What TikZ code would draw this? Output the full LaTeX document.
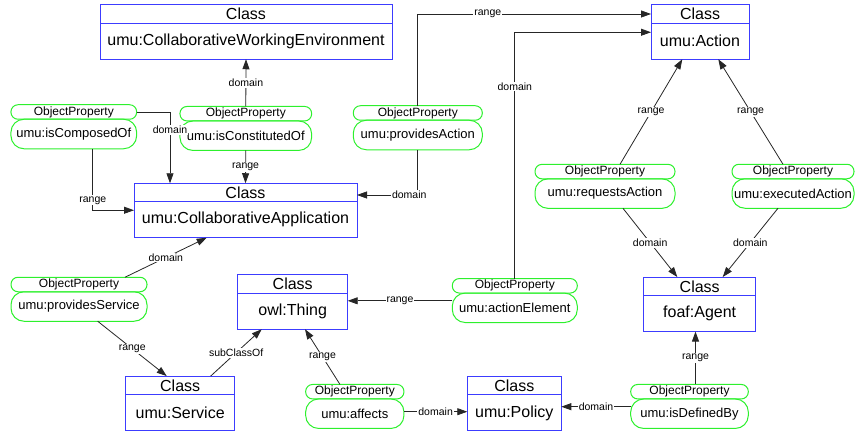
\documentclass[tikz,border=0pt]{standalone}
\usepackage{fontspec}
\setmainfont{Liberation Sans}
\usetikzlibrary{arrows.meta,positioning}

\definecolor{clsblue}{RGB}{60,60,255}
\definecolor{opgreen}{RGB}{45,240,45}

\tikzset{
  clshead/.style={color=clsblue, text=black, draw, line width=1pt, outer sep=0pt,
    inner sep=0pt, minimum width=#1, minimum height=18.5pt,
    font=\fontsize{16}{16}\selectfont},
  clsbody/.style={color=clsblue, text=black, draw, line width=1pt, outer sep=0pt,
    inner sep=0pt, minimum width=#1, minimum height=36pt,
    font=\fontsize{16}{16}\selectfont},
  ophead/.style={color=opgreen, text=black, draw, line width=1pt, outer sep=0pt,
    inner sep=0pt, rounded corners=7pt, minimum width=#1, minimum height=14.5pt,
    font=\fontsize{12}{12}\selectfont},
  opbody/.style={color=opgreen, text=black, draw, line width=1pt, outer sep=0pt,
    inner sep=0pt, rounded corners=13pt, minimum width=#1, minimum height=29.5pt,
    font=\fontsize{13}{13}\selectfont},
  rel/.style={draw=black!85, line width=0.8pt, -{Triangle[length=10pt,width=7pt]}},
  lbl/.style={fill=white, text=black, inner sep=1pt, font=\fontsize{10.5}{10.5}\selectfont},
}

\begin{document}
\begin{tikzpicture}[x=1pt,y=-1pt]
  \useasboundingbox (0,0) rectangle (855,436);
  %
  % Classes
  \node[clshead=292pt] (cwe-h) at (246,14) {Class};
  \node[clsbody=292pt, below=0pt of cwe-h] (cwe) {umu:CollaborativeWorkingEnvironment};
  \node[clshead=223pt] (capp-h) at (245.5,192.5) {Class};
  \node[clsbody=223pt, below=0pt of capp-h] (capp) {umu:CollaborativeApplication};
  \node[clshead=98pt] (act-h) at (700,14) {Class};
  \node[clsbody=98pt, below=0pt of act-h] (act) {umu:Action};
  \node[clshead=110pt] (thing-h) at (292.7,284) {Class};
  \node[clsbody=110pt, below=0pt of thing-h] (thing) {owl:Thing};
  \node[clshead=109pt] (serv-h) at (180.2,385.3) {Class};
  \node[clsbody=109pt, below=0pt of serv-h] (serv) {umu:Service};
  \node[clshead=94pt] (pol-h) at (514.3,385.7) {Class};
  \node[clsbody=94pt, below=0pt of pol-h] (pol) {umu:Policy};
  \node[clshead=112pt] (agent-h) at (699.7,286.3) {Class};
  \node[clsbody=112pt, below=0pt of agent-h] (agent) {foaf:Agent};
  %
  % Object properties
  \node[ophead=125.7pt] (icomp-h) at (73.8,112) {ObjectProperty};
  \node[opbody=125.7pt, below=0pt of icomp-h] (icomp) {umu:isComposedOf};
  \node[ophead=131.7pt] (icons-h) at (245.8,113.7) {ObjectProperty};
  \node[opbody=131.7pt, below=0pt of icons-h] (icons) {umu:isConstitutedOf};
  \node[ophead=129pt] (pact-h) at (417.8,113) {ObjectProperty};
  \node[opbody=129pt, below=0pt of pact-h] (pact) {umu:providesAction};
  \node[ophead=140pt] (req-h) at (605,171.6) {ObjectProperty};
  \node[opbody=140pt, below=0pt of req-h] (req) {umu:requestsAction};
  \node[ophead=122pt] (exe-h) at (793,171.5) {ObjectProperty};
  \node[opbody=122pt, below=0pt of exe-h] (exe) {umu:executedAction};
  \node[ophead=125pt] (ael-h) at (514.8,285.8) {ObjectProperty};
  \node[opbody=125pt, below=0pt of ael-h] (ael) {umu:actionElement};
  \node[ophead=136pt] (psrv-h) at (79,284.5) {ObjectProperty};
  \node[opbody=136pt, below=0pt of psrv-h] (psrv) {umu:providesService};
  \node[ophead=98.3pt] (aff-h) at (354.8,391.7) {ObjectProperty};
  \node[opbody=98.3pt, below=0pt of aff-h] (aff) {umu:affects};
  \node[ophead=117.6pt] (idb-h) at (689.5,391.7) {ObjectProperty};
  \node[opbody=117.6pt, below=0pt of idb-h] (idb) {umu:isDefinedBy};
  %
  % Domains and ranges
  \draw[rel] (icons-h.north) -- (cwe.south) node[lbl, midway] {domain};
  \draw[rel] (icons.south) -- (capp-h.north) node[lbl, midway] {range};
  \draw[rel] (icomp-h.east) -| ([xshift=36pt]capp-h.north west)
    node[lbl, pos=0.625] {domain};
  \draw[rel] ([xshift=19pt]icomp.south) |- ([yshift=9.5pt]capp.west)
    node[lbl, pos=0.42] {range};
  \draw[rel] (pact.south) |- ([yshift=-2.5pt]capp-h.east)
    node[lbl, pos=0.57] {domain};
  \draw[rel] (pact-h.north) |- (act-h.west) node[lbl, pos=0.65] {range};
  \draw[rel] (ael-h.north) |- ([yshift=-9pt]act.north west)
    node[lbl, pos=0.39] {domain};
  \draw[rel] ([yshift=7pt]ael.west) -- ([yshift=7pt]ael.west -| thing.east)
    node[lbl, midway] {range};
  \draw[rel] ([xshift=15pt]req-h.north) -- ([xshift=-17.7pt]act.south)
    node[lbl, midway] {range};
  \draw[rel] ([xshift=-10pt]exe-h.north) -- ([xshift=18.3pt]act.south)
    node[lbl, midway] {range};
  \draw[rel] ([xshift=18pt]req.south) -- ([xshift=-22.4pt]agent-h.north)
    node[lbl, midway] {domain};
  \draw[rel] ([xshift=-15pt]exe.south) -- ([xshift=23pt]agent-h.north)
    node[lbl, midway] {domain};
  \draw[rel] ([xshift=6pt]idb-h.north) -- ([xshift=6pt]idb-h.north |- agent.south)
    node[lbl, midway] {range};
  \draw[rel] ([yshift=7pt]idb.west) -- ([yshift=7pt]idb.west -| pol.east)
    node[lbl, midway] {domain};
  \draw[rel] ([yshift=2pt]aff.east) -- ([yshift=2pt]aff.east -| pol.west)
    node[lbl, midway] {domain};
  \draw[rel] ([xshift=-14.8pt]aff-h.north) -- ([xshift=12.3pt]thing.south)
    node[lbl, midway] {range};
  \draw[rel] ([xshift=30.5pt]serv-h.north) -- ([xshift=-31pt]thing.south)
    node[lbl, midway] {subClassOf};
  \draw[rel] ([xshift=18.7pt]psrv.south) -- ([xshift=-13.5pt]serv-h.north)
    node[lbl, midway] {range};
  \draw[rel] ([xshift=46pt]psrv-h.north) -- ([xshift=-38.8pt]capp.south)
    node[lbl, midway] {domain};
\end{tikzpicture}
\end{document}
